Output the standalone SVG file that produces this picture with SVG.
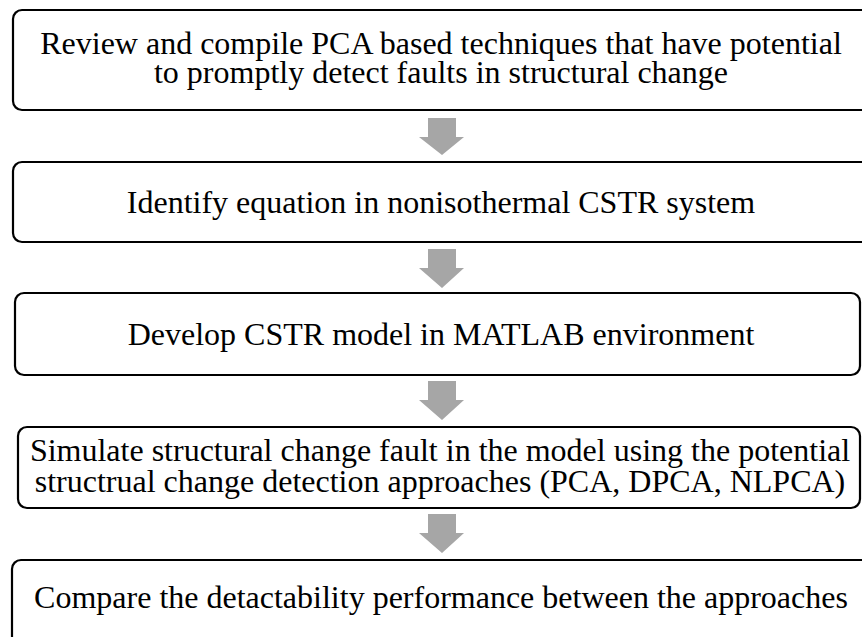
<svg xmlns="http://www.w3.org/2000/svg" width="862" height="637" viewBox="0 0 862 637">
<style>
.box{fill:#fff;stroke:#000;stroke-width:2.2}
.t{font-family:"Liberation Serif","Times New Roman",serif;font-size:32px;fill:#000;text-anchor:middle}
.arr{fill:#a6a6a6}
</style>
<rect width="862" height="637" fill="#fff"/>
<g id="n1"><rect class="box" x="13" y="10" width="868" height="100" rx="9"/>
<text class="t" x="441" y="54">Review and compile PCA based techniques that have potential</text>
<text class="t" x="441" y="83">to promptly detect faults in structural change</text></g>
<g id="n2"><rect class="box" x="13" y="162" width="868" height="80" rx="9"/>
<text class="t" x="441" y="213">Identify equation in nonisothermal CSTR system</text></g>
<g id="n3"><rect class="box" x="15" y="293" width="845" height="82" rx="9"/>
<text class="t" x="441" y="345">Develop CSTR model in MATLAB environment</text></g>
<g id="n4"><rect class="box" x="18" y="427" width="842" height="81" rx="9"/>
<text class="t" x="440" y="461">Simulate structural change fault in the model using the potential</text>
<text class="t" x="440" y="492">structrual change detection approaches (PCA, DPCA, NLPCA)</text></g>
<g id="n5"><rect class="box" x="12" y="560" width="868" height="90" rx="9"/>
<text class="t" x="441" y="608">Compare the detactability performance between the approaches</text></g>
<g id="connectors">
<polygon class="arr" points="428,118 456,118 456,137 464,137 442,155 419,137 428,137"/>
<polygon class="arr" points="428,249 456,249 456,268 464,268 442,288 419,268 428,268"/>
<polygon class="arr" points="428,381 456,381 456,400 464,400 442,420 419,400 428,400"/>
<polygon class="arr" points="428,514 456,514 456,533 464,533 442,553 419,533 428,533"/>
</g>
</svg>
